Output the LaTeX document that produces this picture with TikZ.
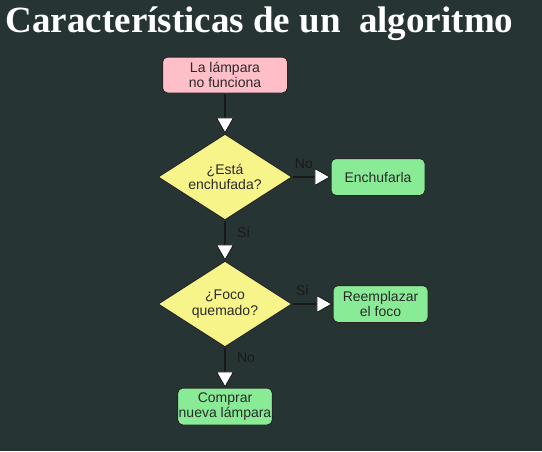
\documentclass[tikz,border=0pt]{standalone}
\usepackage{fontspec}
\setmainfont{Liberation Sans}
\newfontfamily\titulofont{Liberation Serif}
\usepackage{xcolor}
\usetikzlibrary{arrows.meta,shapes.geometric,positioning}

\definecolor{fondo}{HTML}{263434}
\definecolor{rosa}{HTML}{FFBFC9}
\definecolor{amarillo}{HTML}{F7F48A}
\definecolor{verde}{HTML}{8AEB97}
\definecolor{texto}{HTML}{2A2A2A}

\begin{document}
\begin{tikzpicture}[x=1pt,y=-1pt,
  ->,>={Triangle[length=16pt,width=18pt,fill=white,line width=0.8pt]},line width=1.4pt,
  node distance=40pt,
  caja/.style={rectangle,rounded corners=5pt,draw=black!85,line width=1pt,
    minimum height=37pt,align=center,text=texto,font=\fontsize{14}{15.5}\selectfont},
  pregunta/.style={diamond,aspect=1.56,draw=black!85,line width=1pt,fill=amarillo,
    minimum width=134pt,minimum height=86pt,inner sep=0pt,align=center,text=texto,
    font=\fontsize{14}{15.5}\selectfont},
  etiqueta/.style={text=black!90,font=\fontsize{14}{15}\selectfont}]

\fill[fondo] (0,0) rectangle (542,451);
\useasboundingbox (0,0) rectangle (542,451);

\node[anchor=west,text=white,inner sep=0pt] (titulo) at (5,24)
  {\titulofont\bfseries\fontsize{37}{37}\selectfont Características de un\ \ algoritmo};

\node[caja, fill=rosa, minimum width=125pt, minimum height=36pt] (L_0) at (225,75)
  {La lámpara\\no funciona};
\node[pregunta] (P_1) [below=of L_0] {¿Está\\enchufada?};
\node[caja, fill=verde, minimum width=94pt] (A_1) [right=38pt of P_1] {Enchufarla};
\node[pregunta] (P_2) [below=of P_1] {¿Foco\\quemado?};
\node[caja, fill=verde, minimum width=95pt] (A_2) [right=of P_2] {Reemplazar\\el foco};
\node[caja, fill=verde, minimum width=94pt, inner sep=1pt] (A_3) [below=of P_2]
  {Comprar\\nueva lámpara};

\path[draw=black!90]
  (L_0) edge (P_1)
  (P_1) edge node[etiqueta, pos=0.3, above=4pt] {No} (A_1)
  (P_1) edge node[etiqueta, pos=0.3, right=8pt] {Sí} (P_2)

  (P_2) edge node[etiqueta, pos=0.25, above=4pt] {Sí} (A_2)
  (P_2) edge node[etiqueta, pos=0.25, right=8pt] {No} (A_3)
;
\end{tikzpicture}
\end{document}
